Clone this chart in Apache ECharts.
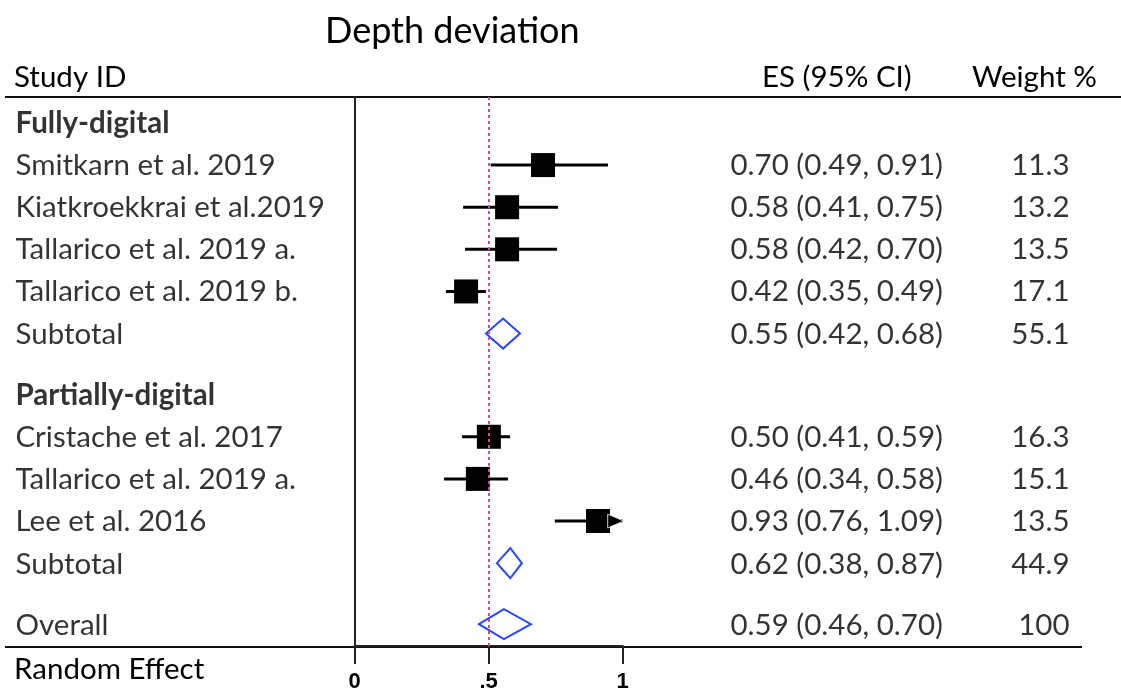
<!DOCTYPE html>
<html><head><meta charset="utf-8">
<script src="https://cdn.jsdelivr.net/npm/echarts@6/dist/echarts.min.js"></script>
<style>html,body{margin:0;padding:0;background:#fff}#c{width:1121px;height:693px}</style>
</head><body><div id="c"></div>
<script>
// ---- data ----
const rowLabels = ['Fully-digital','Smitkarn et al. 2019','Kiatkroekkrai et al.2019','Tallarico et al. 2019 a.','Tallarico et al. 2019 b.','Subtotal',
  'Partially-digital','Cristache et al. 2017','Tallarico et al. 2019 a.','Lee et al. 2016','Subtotal','Overall'];
const rowKind = ['group','study','study','study','study','subtotal','group','study','study','study','subtotal','overall'];
const esText = ['','0.70 (0.49, 0.91)','0.58 (0.41, 0.75)','0.58 (0.42, 0.70)','0.42 (0.35, 0.49)','0.55 (0.42, 0.68)',
  '','0.50 (0.41, 0.59)','0.46 (0.34, 0.58)','0.93 (0.76, 1.09)','0.62 (0.38, 0.87)','0.59 (0.46, 0.70)'];
const weightText = ['','11.3','13.2','13.5','17.1','55.1','','16.3','15.1','13.5','44.9','100'];
// effect sizes and interval ends as drawn in the picture
const plotEs = [null,0.703,0.569,0.569,0.416,0.554,null,0.501,0.460,0.908,0.581,0.557];
const plotLo = [null,0.508,0.405,0.412,0.341,0.490,null,0.401,0.334,0.747,0.531,0.464];
const plotHi = [null,0.945,0.759,0.755,0.490,0.617,null,0.580,0.572,1.090,0.624,0.658];
const xTicks = [0, 0.5, 1];
const xTickLabels = ['0', '.5', '1'];
const refLine = 0.5;

// ---- layout ----
const FONT = 'Lato';
const FS = 29.5;
const GAP = 0.45;
const STEP = 42.2;           // px per row
const GRID_TOP = 97, GRID_BOTTOM_Y = 647;
const FIRST_ROW_OFFSET = 26; // px from top line to first row
const yMin = -FIRST_ROW_OFFSET / STEP;
const yMax = yMin + (GRID_BOTTOM_Y - GRID_TOP) / STEP;
const AX_MIN = 0, AX_MAX = 1;

// row positions from structure
const rowPos = [];
{ let extra = 0; rowKind.forEach((k, i) => { if ((k === 'group' && i > 0) || k === 'overall') extra += GAP; rowPos.push(i + extra); }); }

const chart = echarts.init(document.getElementById('c'));
const gridBase = {top: GRID_TOP, height: GRID_BOTTOM_Y - GRID_TOP};
const grids = [
  Object.assign({left: 15, width: 10}, gridBase),    // labels
  Object.assign({left: 354.5, width: 268.2}, gridBase), // plot
  Object.assign({left: 730, width: 10}, gridBase),   // ES
  Object.assign({left: 1070, width: 10}, gridBase)   // weight
];
const hiddenX = i => ({type:'value', gridIndex:i, min:0, max:1, show:false});
const yAx = (i, show) => ({type:'value', gridIndex:i, min:yMin, max:yMax, inverse:true,
  axisLine:{show:show, onZero:false, lineStyle:{color:'#222', width:2}}, axisTick:{show:false}, axisLabel:{show:false}, splitLine:{show:false}});

const textSeries = (gi, texts, pos, boldFn) => ({
  type:'scatter', xAxisIndex:gi, yAxisIndex:gi, symbolSize:1, itemStyle:{color:'rgba(0,0,0,0)'}, clip:false, silent:true,
  data: texts.map((t, i) => ({value:[0, rowPos[i]], name:t,
    label:{fontWeight: boldFn && boldFn(i) ? 'bold' : 'normal'}})).filter(d => d.name !== ''),
  label:{show:true, position:pos, distance:0, formatter: p => p.name, fontFamily:FONT, fontSize:FS, color:'#000'}
});

const studyIdx = rowKind.map((k,i)=>k==='study'?i:-1).filter(i=>i>=0);
const diaIdx = rowKind.map((k,i)=>(k==='subtotal'||k==='overall')?i:-1).filter(i=>i>=0);

const option = {
  animation:false,
  backgroundColor:'#fff',
  grid: grids,
  xAxis: [hiddenX(0), {
    type:'value', gridIndex:1, min:AX_MIN, max:AX_MAX, interval:0.5, position:'bottom',
    axisLine:{show:true, onZero:false, lineStyle:{color:'#222', width:2}},
    axisTick:{show:true, length:18, lineStyle:{color:'#222', width:2}},
    axisLabel:{show:true, margin:25,
      fontFamily:'Liberation Sans', fontWeight:'bold', fontSize:22, color:'#000',
      formatter: v => { const k = xTicks.indexOf(v); return k >= 0 ? xTickLabels[k] : ''; }},
    splitLine:{show:false}
  }, hiddenX(2), hiddenX(3)],
  yAxis: [yAx(0,false), yAx(1,true), yAx(2,false), yAx(3,false)],
  series: [
    textSeries(0, rowLabels, 'right', i => rowKind[i] === 'group'),
    textSeries(2, esText, 'right'),
    textSeries(3, weightText, 'left'),
    { // reference line
      type:'line', xAxisIndex:1, yAxisIndex:1, data:[], silent:true,
      markLine:{symbol:'none', silent:true, label:{show:false},
        lineStyle:{color:'#c8558a', type:[3,3], width:2},
        data:[{xAxis:refLine}]}
    },
    { // CI lines
      type:'custom', xAxisIndex:1, yAxisIndex:1, clip:false, silent:true, z:3,
      data: studyIdx.map(i => [plotEs[i], rowPos[i], plotLo[i], plotHi[i]]),
      renderItem: (params, api) => {
        const y = api.value(1), lo = api.value(2), hi = api.value(3);
        const p1 = api.coord([Math.max(lo, AX_MIN), y]);
        const p2 = api.coord([Math.min(hi, AX_MAX), y]);
        return {type:'line', shape:{x1:p1[0], y1:p1[1], x2:p2[0], y2:p2[1]}, style:{stroke:'#000', lineWidth:3}};
      }
    },
    { // squares
      type:'scatter', xAxisIndex:1, yAxisIndex:1, symbol:'rect', symbolSize:24, z:4, silent:true,
      itemStyle:{color:'#000', opacity:1},
      data: studyIdx.map(i => [plotEs[i], rowPos[i]])
    },
    { // arrows for truncated intervals
      type:'custom', xAxisIndex:1, yAxisIndex:1, clip:false, silent:true, z:5,
      data: studyIdx.filter(i => plotHi[i] > AX_MAX).map(i => [AX_MAX, rowPos[i]]),
      renderItem: (params, api) => {
        const p = api.coord([api.value(0), api.value(1)]);
        return {type:'polygon', shape:{points:[[p[0]+1, p[1]], [p[0]-15, p[1]-7], [p[0]-15, p[1]+7]]},
          style:{fill:'#000', stroke:'#fff', lineWidth:0.8}};
      }
    },
    { // diamonds
      type:'custom', xAxisIndex:1, yAxisIndex:1, clip:false, silent:true, z:4,
      data: diaIdx.map(i => [plotEs[i], rowPos[i], plotLo[i], plotHi[i]]),
      renderItem: (params, api) => {
        const y = api.value(1);
        const c = api.coord([api.value(0), y]);
        const l = api.coord([api.value(2), y]);
        const r = api.coord([api.value(3), y]);
        const h = 15;
        return {type:'polygon', shape:{points:[[l[0], c[1]], [c[0], c[1]-h], [r[0], c[1]], [c[0], c[1]+h]]},
          style:{fill:'none', stroke:'#2a48ff', lineWidth:2}};
      }
    }
  ],
  graphic: [
    {type:'text', left:325, top:13, style:{text:'Depth deviation', fontFamily:FONT, fontSize:36, fill:'#000'}},
    {type:'text', left:14, top:62, style:{text:'Study ID', fontFamily:FONT, fontSize:FS, fill:'#000'}},
    {type:'text', left:762, top:62, style:{text:'ES (95% CI)', fontFamily:FONT, fontSize:FS, fill:'#000'}},
    {type:'text', left:972, top:62, style:{text:'Weight %', fontFamily:FONT, fontSize:FS, fill:'#000'}},
    {type:'text', left:14, top:654, style:{text:'Random Effect', fontFamily:FONT, fontSize:FS, fill:'#000'}},
    {type:'line', shape:{x1:5, y1:GRID_TOP, x2:1121, y2:GRID_TOP}, style:{stroke:'#111', lineWidth:2}},
    {type:'line', shape:{x1:5, y1:GRID_BOTTOM_Y, x2:1082, y2:GRID_BOTTOM_Y}, style:{stroke:'#111', lineWidth:2}}
  ]
};
chart.setOption(option);
</script></body></html>
